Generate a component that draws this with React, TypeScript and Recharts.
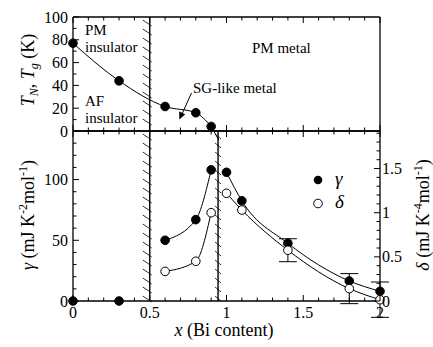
import React from "react"
import { ComposedChart, Line, XAxis, YAxis, ReferenceLine, ErrorBar } from "recharts"

const FONT = '"Liberation Serif", "Times New Roman", Times, serif'

// upper panel: T_N / T_g against Bi content
const TN_X = [0, 0.3, 0.6, 0.8, 0.9]
const TN_K = [77, 44, 21.5, 16, 4]
// the phase line runs on a little past the last point, below T = 0
const TN_TAIL = [
  { x: 0.9, y: 4 },
  { x: 0.95, y: -8 },
]

// lower panel: gamma (filled) and delta (open)
const X = [0, 0.3, 0.6, 0.8, 0.9, 1.0, 1.1, 1.4, 1.8, 2.0]
const GAMMA = [0, 0, 50, 67, 108, 106, 82.5, 47.5, 16.5, 8]
const DELTA = [null, null, 0.335, 0.45, 1.0, 1.22, 1.03, 0.575, 0.14, 0.015]
const DELTA_ERR = [0, 0, 0, 0, 0, 0, 0, 0.13, 0.17, 0.2]
const BRANCH = ["ins", "ins", "low", "low", "low", "high", "high", "high", "high", "high"]

// phase boundaries (hatched lines)
const BOUNDARY_INS = 0.5
const BOUNDARY_SG = 0.945

// labelled ticks
const X_LABELS = [0, 0.5, 1, 1.5, 2]
const T_LABELS = [0, 20, 40, 60, 80, 100]
const G_LABELS = [0, 50, 100]
const D_LABELS = [0, 0.5, 1, 1.5]

const steps = (max: number, step: number) =>
  Array.from({ length: Math.floor(max / step + 1e-6) + 1 }, (_, i) => +(i * step).toFixed(3))

const X_TICKS = steps(2, 0.1)
const T_TICKS = steps(100, 10)
const G_TICKS = steps(140, 10)
const D_TICKS = steps(1.9, 0.1)

const phaseData = TN_X.map((x, i) => ({ x, t: TN_K[i] }))

const heatData = X.map((x, i) => ({
  x,
  gIns: BRANCH[i] === "ins" ? GAMMA[i] : null,
  gLow: BRANCH[i] === "low" ? GAMMA[i] : null,
  gHigh: BRANCH[i] === "high" ? GAMMA[i] : null,
  dLow: BRANCH[i] === "low" ? DELTA[i] : null,
  dHigh: BRANCH[i] === "high" ? DELTA[i] : null,
  dErr: DELTA_ERR[i] || null,
}))

type Side = "left" | "right" | "top" | "bottom"

// inward ticks, long on the labelled values
const inTick = (side: Side, majors: number[], showLabels: boolean) => (p: any) => {
  const { x, y, payload } = p
  const v = payload.value
  const major = majors.some((m) => Math.abs(m - v) < 1e-6)
  const len = major ? 6 : 3.5
  const label = showLabels && major ? String(v) : null
  let tick
  let text = null
  if (side === "bottom") {
    tick = <line x1={x} y1={y} x2={x} y2={y - len} />
    if (label) text = <text x={x} y={y + 17} textAnchor="middle">{label}</text>
  } else if (side === "top") {
    tick = <line x1={x} y1={y} x2={x} y2={y + len} />
  } else if (side === "left") {
    tick = <line x1={x} y1={y} x2={x + len} y2={y} />
    if (label) text = <text x={x - 5} y={y + 5.5} textAnchor="end">{label}</text>
  } else {
    tick = <line x1={x} y1={y} x2={x - len} y2={y} />
    if (label) text = <text x={x + 2} y={y + 5.5} textAnchor="start">{label}</text>
  }
  return (
    <g>
      <g stroke="#000" strokeWidth={1}>{tick}</g>
      {text && (
        <g fill="#000" fontFamily={FONT} fontSize={16}>
          {text}
        </g>
      )}
    </g>
  )
}

const hatched = (left: number, right: number, drop: number) => (p: any) => {
  const x = p.x1
  const top = Math.min(p.y1, p.y2)
  const bottom = Math.max(p.y1, p.y2)
  const marks = []
  for (let y = top + 3; y < bottom - 4; y += 9) {
    marks.push(<line key={y} x1={x - left} y1={y} x2={x + right} y2={y + drop} />)
  }
  return (
    <g stroke="#000">
      <line x1={x} y1={top} x2={x} y2={bottom} strokeWidth={1.4} />
      <g strokeWidth={0.8}>{marks}</g>
    </g>
  )
}

const axisLine = { stroke: "#000", strokeWidth: 1.3 }
const filledDot = { r: 4.3, fill: "#000", stroke: "#000", strokeWidth: 1, clipDot: false }
const openDot = { r: 4.3, fill: "#fff", stroke: "#000", strokeWidth: 1, clipDot: false }

function PhasePanel() {
  return (
    <ComposedChart width={433} height={150} data={phaseData} margin={{ top: 16, right: 0, bottom: 18, left: 0 }}>
      <XAxis xAxisId="b" dataKey="x" type="number" domain={[0, 2]} ticks={X_TICKS} interval={0}
        height={1} tickSize={0} tickMargin={0} axisLine={axisLine} tickLine={false} tick={inTick("bottom", X_LABELS, false)} />
      <XAxis xAxisId="t" orientation="top" dataKey="x" type="number" domain={[0, 2]} ticks={X_TICKS} interval={0}
        height={1} tickSize={0} tickMargin={0} axisLine={axisLine} tickLine={false} tick={inTick("top", X_LABELS, false)} />
      <YAxis yAxisId="l" type="number" domain={[0, 100]} ticks={T_TICKS} interval={0} width={73}
        tickSize={0} tickMargin={0} axisLine={axisLine} tickLine={false} tick={inTick("left", T_LABELS, true)} />
      <YAxis yAxisId="r" orientation="right" type="number" domain={[0, 100]} ticks={T_TICKS} interval={0} width={53}
        tickSize={0} tickMargin={0} axisLine={axisLine} tickLine={false} tick={inTick("right", T_LABELS, false)} />
      <ReferenceLine xAxisId="b" yAxisId="l" x={BOUNDARY_INS} shape={hatched(7, 2, 6)} ifOverflow="visible" />
      <ReferenceLine xAxisId="b" yAxisId="l" segment={TN_TAIL} stroke="#000" strokeWidth={1} ifOverflow="visible" />
      <Line xAxisId="b" yAxisId="l" dataKey="t" type="monotone" stroke="#000" strokeWidth={1}
        dot={filledDot} isAnimationActive={false} />
    </ComposedChart>
  )
}

function HeatPanel() {
  return (
    <ComposedChart width={433} height={222} data={heatData} margin={{ top: 5, right: 0, bottom: 0, left: 0 }}>
      <XAxis xAxisId="b" dataKey="x" type="number" domain={[0, 2]} ticks={X_TICKS} interval={0}
        height={46} tickSize={0} tickMargin={0} axisLine={axisLine} tickLine={false} tick={inTick("bottom", X_LABELS, true)} />
      <XAxis xAxisId="t" orientation="top" dataKey="x" type="number" domain={[0, 2]} ticks={X_TICKS} interval={0}
        height={1} tickSize={0} tickMargin={0} axisLine={axisLine} tickLine={false} tick={inTick("top", X_LABELS, false)} />
      <YAxis yAxisId="g" type="number" domain={[0, 140]} ticks={G_TICKS} interval={0} width={73}
        tickSize={0} tickMargin={0} axisLine={axisLine} tickLine={false} tick={inTick("left", G_LABELS, true)} />
      <YAxis yAxisId="d" orientation="right" type="number" domain={[0, 1.925]} allowDataOverflow ticks={D_TICKS} interval={0} width={53}
        tickSize={0} tickMargin={0} axisLine={axisLine} tickLine={false} tick={inTick("right", D_LABELS, true)} />
      <ReferenceLine xAxisId="b" yAxisId="g" x={BOUNDARY_INS} shape={hatched(7, 2, 6)} ifOverflow="visible" />
      <ReferenceLine xAxisId="b" yAxisId="g" x={BOUNDARY_SG} shape={hatched(3, 3, 5)} ifOverflow="visible" />
      <Line xAxisId="b" yAxisId="g" dataKey="gIns" stroke="none" dot={filledDot} isAnimationActive={false} />
      <Line xAxisId="b" yAxisId="g" dataKey="gLow" type="monotone" stroke="#000" strokeWidth={1}
        dot={filledDot} isAnimationActive={false} />
      <Line xAxisId="b" yAxisId="g" dataKey="gHigh" type="monotone" stroke="#000" strokeWidth={1}
        dot={filledDot} isAnimationActive={false} />
      <Line xAxisId="b" yAxisId="d" dataKey="dLow" type="monotone" stroke="#000" strokeWidth={1}
        dot={openDot} isAnimationActive={false} />
      <Line xAxisId="b" yAxisId="d" dataKey="dHigh" type="monotone" stroke="#000" strokeWidth={1}
        dot={openDot} isAnimationActive={false}>
        <ErrorBar dataKey="dErr" direction="y" width={9} stroke="#000" strokeWidth={1} />
      </Line>
    </ComposedChart>
  )
}

export default function App() {
  return (
    <div style={{ position: "absolute", left: 0, top: 0, width: 433, height: 347, background: "#fff" }}>
      <div style={{ position: "absolute", left: 0, top: 0 }}>
        <PhasePanel />
      </div>
      <div style={{ position: "absolute", left: 0, top: 125 }}>
        <HeatPanel />
      </div>
      <svg width={433} height={347} style={{ position: "absolute", left: 0, top: 0, pointerEvents: "none" }}
        fontFamily={FONT} fill="#000">
        {/* phase labels */}
        <g fontSize={15}>
          <text x={85} y={35}>PM</text>
          <text x={85} y={51.5}>insulator</text>
          <text x={85} y={106}>AF</text>
          <text x={85} y={122.5}>insulator</text>
          <text x={252} y={52.5}>PM metal</text>
          <text x={193} y={93}>SG-like metal</text>
        </g>
        <line x1={191.5} y1={93} x2={182} y2={114} stroke="#000" strokeWidth={1} />
        <polygon points="179.3,119.5 179.2,111.6 185.2,114.3" fill="#000" />

        {/* axis titles */}
        <text transform="translate(34,70) rotate(-90)" textAnchor="middle" fontSize={18}>
          <tspan fontStyle="italic">T</tspan>
          <tspan fontSize={12} dy={4} fontStyle="italic">N</tspan>
          <tspan dy={-4}>, </tspan>
          <tspan fontStyle="italic">T</tspan>
          <tspan fontSize={12} dy={4} fontStyle="italic">g</tspan>
          <tspan dy={-4}> (K)</tspan>
        </text>
        <text transform="translate(34,215) rotate(-90)" textAnchor="middle" fontSize={18}>
          <tspan fontStyle="italic">γ</tspan>
          <tspan> (mJ K</tspan>
          <tspan fontSize={12} dy={-7}>-2</tspan>
          <tspan dy={7}>mol</tspan>
          <tspan fontSize={12} dy={-7}>-1</tspan>
          <tspan dy={7}>)</tspan>
        </text>
        <text transform="translate(429,215) rotate(-90)" textAnchor="middle" fontSize={18}>
          <tspan fontStyle="italic">δ</tspan>
          <tspan> (mJ K</tspan>
          <tspan fontSize={12} dy={-7}>-4</tspan>
          <tspan dy={7}>mol</tspan>
          <tspan fontSize={12} dy={-7}>-1</tspan>
          <tspan dy={7}>)</tspan>
        </text>
        <text x={224} y={336} textAnchor="middle" fontSize={18}>
          <tspan fontStyle="italic">x</tspan>
          <tspan> (Bi content)</tspan>
        </text>

        {/* legend */}
        <circle cx={318} cy={180} r={4.3} fill="#000" />
        <circle cx={318} cy={203.5} r={4.3} fill="#fff" stroke="#000" strokeWidth={1} />
        <text x={335} y={185} fontSize={19} fontStyle="italic">γ</text>
        <text x={335} y={208} fontSize={19} fontStyle="italic">δ</text>
      </svg>
    </div>
  )
}
